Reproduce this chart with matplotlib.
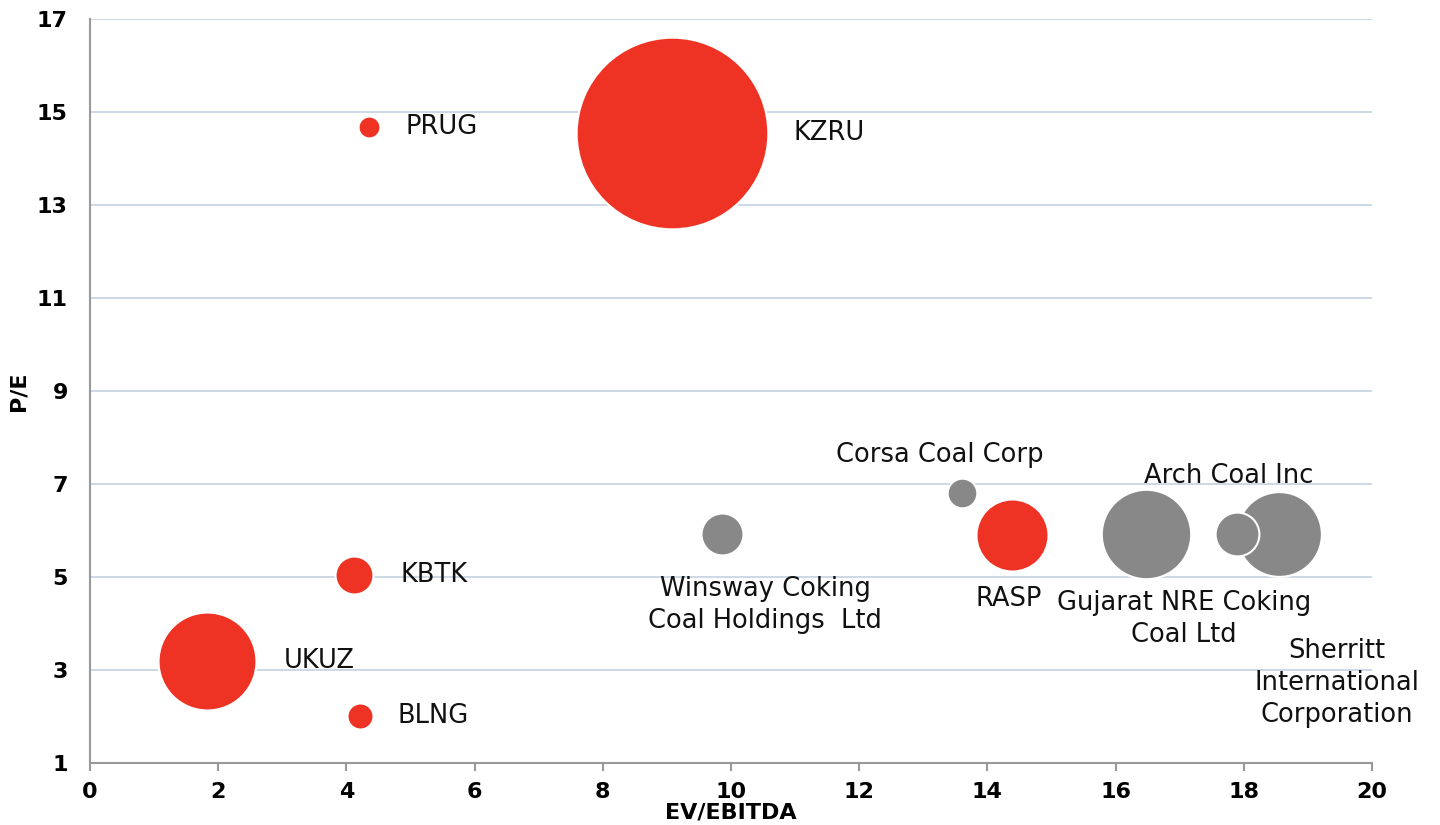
import matplotlib
matplotlib.use("Agg")
import matplotlib.pyplot as plt

# ---- data ----
companies = ["PRUG", "KZRU", "KBTK", "UKUZ", "BLNG",
             "Winsway Coking\nCoal Holdings  Ltd", "Corsa Coal Corp", "RASP",
             "Gujarat NRE Coking\nCoal Ltd", "Sherritt\nInternational\nCorporation",
             "Arch Coal Inc"]
ev_ebitda = [4.35, 9.08, 4.12, 1.83, 4.21, 9.86, 13.60, 14.38, 16.47, 18.55, 17.89]
pe_ratio = [14.68, 14.55, 5.04, 3.20, 2.00, 5.93, 6.80, 5.90, 5.93, 5.92, 5.92]
bubble_size = [1.2, 92.0, 3.6, 24.0, 1.7, 4.4, 2.2, 13.0, 20.0, 18.0, 4.8]
is_russian = [True, True, True, True, True, False, False, True, False, False, False]

x_ticks = [0, 2, 4, 6, 8, 10, 12, 14, 16, 18, 20]
y_ticks = [1, 3, 5, 7, 9, 11, 13, 15, 17]

# label placement (offset in pixels from bubble centre) and alignment
label_dx = [37, 121, 46, 76, 38, 43, -22, -3, 38, 58, -8]
label_dy = [0, 0, 0, 0, 0, -71, 38, -64, -85, -149, 58]
label_ha = ["left", "left", "left", "left", "left", "center", "center", "center",
            "center", "center", "center"]

RED = "#EE3224"
GREY = "#888888"

fig = plt.figure(figsize=(14.4, 8.25), dpi=100)
ax = fig.add_axes([0.0625, 0.0752, 0.8903, 0.9018])

colors = [RED if r else GREY for r in is_russian]
sizes = [s * 207 for s in bubble_size]
for x, y, s, c in zip(ev_ebitda, pe_ratio, sizes, colors):
    ax.scatter(x, y, s=s, color=c, edgecolors="white", linewidths=1.5, zorder=3)

for name, x, y, dx, dy, ha in zip(companies, ev_ebitda, pe_ratio, label_dx, label_dy, label_ha):
    ax.annotate(name, (x, y), xytext=(dx, dy), textcoords="offset pixels",
                ha=ha, va="center", fontsize=18.5, color="#111111",
                linespacing=1.3, multialignment="center", zorder=4,
                annotation_clip=False)

ax.set_xlim(0, 20)
ax.set_ylim(1, 17)
ax.set_xticks(x_ticks)
ax.set_yticks(y_ticks)
ax.set_xticklabels([str(t) for t in x_ticks], fontsize=16, fontweight="bold")
ax.set_yticklabels([str(t) for t in y_ticks], fontsize=16, fontweight="bold")

ax.grid(axis="y", color="#C9D5E5", linewidth=1.3, zorder=0)
ax.set_axisbelow(True)
for sp in ["top", "right"]:
    ax.spines[sp].set_visible(False)
for sp in ["left", "bottom"]:
    ax.spines[sp].set_color("#999999")
    ax.spines[sp].set_linewidth(1.5)
ax.tick_params(axis="x", length=6, width=1.5, color="#999999", pad=8)
ax.tick_params(axis="y", length=0, pad=16)

ax.set_xlabel("EV/EBITDA", fontsize=16, fontweight="bold")
ax.set_ylabel("P/E", fontsize=16, fontweight="bold")
ax.xaxis.set_label_coords(0.5, -0.053)
ax.yaxis.set_label_coords(-0.048, 0.5)

fig.savefig("out.png", dpi=100, facecolor="white")
